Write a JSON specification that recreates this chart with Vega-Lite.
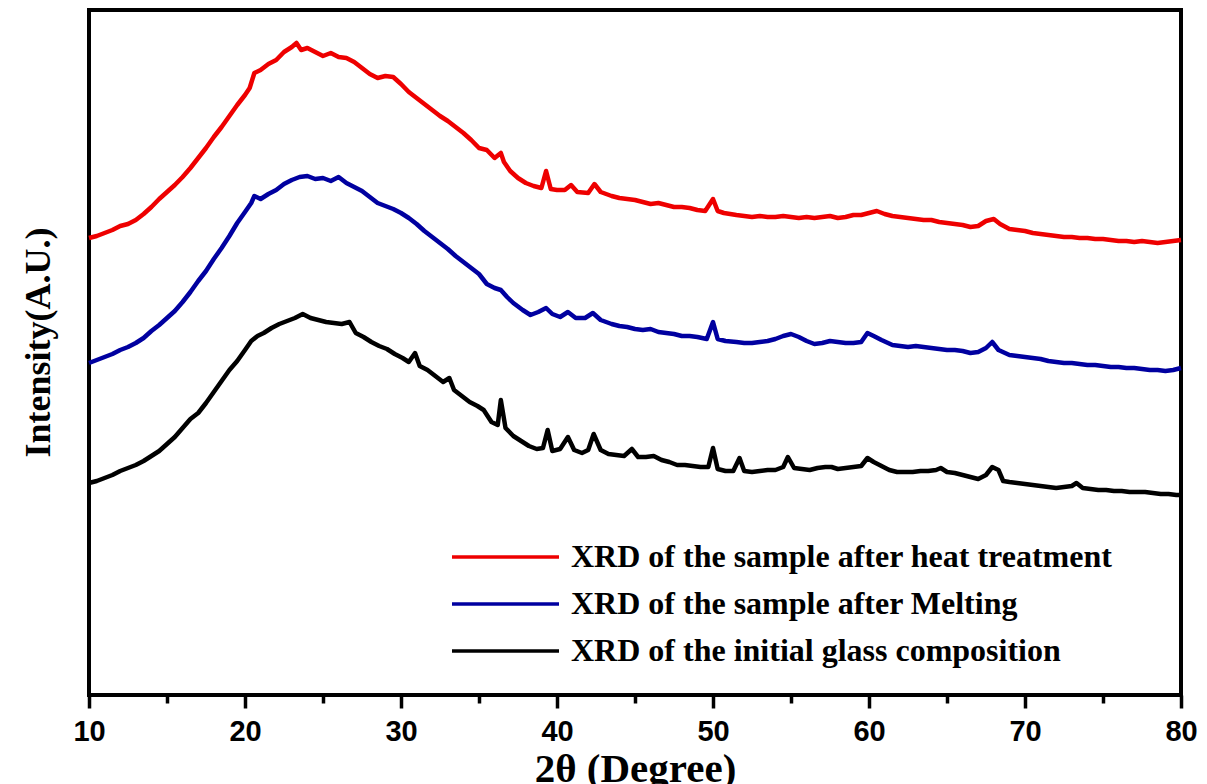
{
  "$schema": "https://vega.github.io/schema/vega-lite/v6.json",
  "width": 1092,
  "height": 685,
  "autosize": {"type": "none"},
  "padding": {"left": 89, "top": 10, "right": 26, "bottom": 89},
  "background": "white",
  "config": {
    "view": {"stroke": "black", "strokeWidth": 4},
    "axis": {"grid": false, "domain": false}
  },
  "data": {"values": [
{"sample":"heat","theta":10.0,"intensity":457},{"sample":"heat","theta":10.5,"intensity":459},{"sample":"heat","theta":11.0,"intensity":462},{"sample":"heat","theta":11.5,"intensity":465},{"sample":"heat","theta":12.0,"intensity":469},{"sample":"heat","theta":12.5,"intensity":471},{"sample":"heat","theta":13.0,"intensity":475},{"sample":"heat","theta":13.5,"intensity":481},{"sample":"heat","theta":14.0,"intensity":488},{"sample":"heat","theta":14.5,"intensity":496},{"sample":"heat","theta":15.0,"intensity":503},{"sample":"heat","theta":15.5,"intensity":510},{"sample":"heat","theta":16.0,"intensity":518},{"sample":"heat","theta":16.5,"intensity":527},{"sample":"heat","theta":17.0,"intensity":537},{"sample":"heat","theta":17.5,"intensity":547},{"sample":"heat","theta":18.0,"intensity":558},{"sample":"heat","theta":18.5,"intensity":568},{"sample":"heat","theta":19.0,"intensity":579},{"sample":"heat","theta":19.5,"intensity":590},{"sample":"heat","theta":20.0,"intensity":600},{"sample":"heat","theta":20.3,"intensity":607},{"sample":"heat","theta":20.6,"intensity":622},{"sample":"heat","theta":21.0,"intensity":625},{"sample":"heat","theta":21.5,"intensity":631},{"sample":"heat","theta":22.0,"intensity":635},{"sample":"heat","theta":22.5,"intensity":643},{"sample":"heat","theta":23.0,"intensity":648},{"sample":"heat","theta":23.3,"intensity":652},{"sample":"heat","theta":23.6,"intensity":645},{"sample":"heat","theta":24.0,"intensity":647},{"sample":"heat","theta":24.5,"intensity":643},{"sample":"heat","theta":25.0,"intensity":639},{"sample":"heat","theta":25.5,"intensity":642},{"sample":"heat","theta":26.0,"intensity":638},{"sample":"heat","theta":26.5,"intensity":637},{"sample":"heat","theta":27.0,"intensity":633},{"sample":"heat","theta":27.5,"intensity":627},{"sample":"heat","theta":28.0,"intensity":621},{"sample":"heat","theta":28.5,"intensity":617},{"sample":"heat","theta":29.0,"intensity":619},{"sample":"heat","theta":29.5,"intensity":618},{"sample":"heat","theta":30.0,"intensity":611},{"sample":"heat","theta":30.5,"intensity":603},{"sample":"heat","theta":31.0,"intensity":597},{"sample":"heat","theta":31.5,"intensity":591},{"sample":"heat","theta":32.0,"intensity":585},{"sample":"heat","theta":32.5,"intensity":579},{"sample":"heat","theta":33.0,"intensity":574},{"sample":"heat","theta":33.5,"intensity":568},{"sample":"heat","theta":34.0,"intensity":562},{"sample":"heat","theta":34.5,"intensity":555},{"sample":"heat","theta":35.0,"intensity":547},{"sample":"heat","theta":35.5,"intensity":545},{"sample":"heat","theta":36.0,"intensity":537},{"sample":"heat","theta":36.4,"intensity":542},{"sample":"heat","theta":36.6,"intensity":533},{"sample":"heat","theta":37.0,"intensity":524},{"sample":"heat","theta":37.5,"intensity":517},{"sample":"heat","theta":38.0,"intensity":512},{"sample":"heat","theta":38.5,"intensity":509},{"sample":"heat","theta":39.0,"intensity":507},{"sample":"heat","theta":39.3,"intensity":524},{"sample":"heat","theta":39.6,"intensity":506},{"sample":"heat","theta":40.0,"intensity":505},{"sample":"heat","theta":40.5,"intensity":505},{"sample":"heat","theta":40.9,"intensity":510},{"sample":"heat","theta":41.3,"intensity":503},{"sample":"heat","theta":42.0,"intensity":502},{"sample":"heat","theta":42.4,"intensity":511},{"sample":"heat","theta":42.8,"intensity":503},{"sample":"heat","theta":43.5,"intensity":499},{"sample":"heat","theta":44.0,"intensity":497},{"sample":"heat","theta":44.5,"intensity":496},{"sample":"heat","theta":45.0,"intensity":495},{"sample":"heat","theta":45.5,"intensity":493},{"sample":"heat","theta":46.0,"intensity":491},{"sample":"heat","theta":46.5,"intensity":492},{"sample":"heat","theta":47.0,"intensity":490},{"sample":"heat","theta":47.5,"intensity":488},{"sample":"heat","theta":48.0,"intensity":488},{"sample":"heat","theta":48.5,"intensity":487},{"sample":"heat","theta":49.0,"intensity":485},{"sample":"heat","theta":49.5,"intensity":484},{"sample":"heat","theta":50.0,"intensity":496},{"sample":"heat","theta":50.3,"intensity":484},{"sample":"heat","theta":50.7,"intensity":482},{"sample":"heat","theta":51.5,"intensity":480},{"sample":"heat","theta":52.0,"intensity":479},{"sample":"heat","theta":52.5,"intensity":478},{"sample":"heat","theta":53.0,"intensity":479},{"sample":"heat","theta":53.5,"intensity":478},{"sample":"heat","theta":54.0,"intensity":478},{"sample":"heat","theta":54.5,"intensity":479},{"sample":"heat","theta":55.0,"intensity":478},{"sample":"heat","theta":55.5,"intensity":477},{"sample":"heat","theta":56.0,"intensity":478},{"sample":"heat","theta":56.5,"intensity":477},{"sample":"heat","theta":57.0,"intensity":478},{"sample":"heat","theta":57.5,"intensity":479},{"sample":"heat","theta":58.0,"intensity":477},{"sample":"heat","theta":58.5,"intensity":478},{"sample":"heat","theta":59.0,"intensity":480},{"sample":"heat","theta":59.5,"intensity":480},{"sample":"heat","theta":60.0,"intensity":482},{"sample":"heat","theta":60.5,"intensity":484},{"sample":"heat","theta":61.0,"intensity":481},{"sample":"heat","theta":61.5,"intensity":479},{"sample":"heat","theta":62.0,"intensity":478},{"sample":"heat","theta":62.5,"intensity":477},{"sample":"heat","theta":63.0,"intensity":476},{"sample":"heat","theta":63.5,"intensity":475},{"sample":"heat","theta":64.0,"intensity":475},{"sample":"heat","theta":64.5,"intensity":473},{"sample":"heat","theta":65.0,"intensity":472},{"sample":"heat","theta":65.5,"intensity":471},{"sample":"heat","theta":66.0,"intensity":470},{"sample":"heat","theta":66.5,"intensity":468},{"sample":"heat","theta":67.0,"intensity":469},{"sample":"heat","theta":67.5,"intensity":474},{"sample":"heat","theta":68.0,"intensity":476},{"sample":"heat","theta":68.4,"intensity":471},{"sample":"heat","theta":69.0,"intensity":466},{"sample":"heat","theta":69.5,"intensity":465},{"sample":"heat","theta":70.0,"intensity":464},{"sample":"heat","theta":70.5,"intensity":462},{"sample":"heat","theta":71.0,"intensity":461},{"sample":"heat","theta":71.5,"intensity":460},{"sample":"heat","theta":72.0,"intensity":459},{"sample":"heat","theta":72.5,"intensity":458},{"sample":"heat","theta":73.0,"intensity":458},{"sample":"heat","theta":73.5,"intensity":457},{"sample":"heat","theta":74.0,"intensity":457},{"sample":"heat","theta":74.5,"intensity":456},{"sample":"heat","theta":75.0,"intensity":456},{"sample":"heat","theta":75.5,"intensity":455},{"sample":"heat","theta":76.0,"intensity":454},{"sample":"heat","theta":76.5,"intensity":454},{"sample":"heat","theta":77.0,"intensity":453},{"sample":"heat","theta":77.5,"intensity":454},{"sample":"heat","theta":78.0,"intensity":453},{"sample":"heat","theta":78.5,"intensity":452},{"sample":"heat","theta":79.0,"intensity":453},{"sample":"heat","theta":79.5,"intensity":454},{"sample":"heat","theta":80.0,"intensity":455},
{"sample":"melt","theta":10.0,"intensity":332},{"sample":"melt","theta":10.5,"intensity":335},{"sample":"melt","theta":11.0,"intensity":338},{"sample":"melt","theta":11.5,"intensity":341},{"sample":"melt","theta":12.0,"intensity":345},{"sample":"melt","theta":12.5,"intensity":348},{"sample":"melt","theta":13.0,"intensity":352},{"sample":"melt","theta":13.5,"intensity":357},{"sample":"melt","theta":14.0,"intensity":364},{"sample":"melt","theta":14.5,"intensity":370},{"sample":"melt","theta":15.0,"intensity":377},{"sample":"melt","theta":15.5,"intensity":384},{"sample":"melt","theta":16.0,"intensity":393},{"sample":"melt","theta":16.5,"intensity":403},{"sample":"melt","theta":17.0,"intensity":414},{"sample":"melt","theta":17.5,"intensity":424},{"sample":"melt","theta":18.0,"intensity":436},{"sample":"melt","theta":18.5,"intensity":447},{"sample":"melt","theta":19.0,"intensity":459},{"sample":"melt","theta":19.5,"intensity":472},{"sample":"melt","theta":20.0,"intensity":483},{"sample":"melt","theta":20.4,"intensity":492},{"sample":"melt","theta":20.6,"intensity":499},{"sample":"melt","theta":21.0,"intensity":496},{"sample":"melt","theta":21.5,"intensity":501},{"sample":"melt","theta":22.0,"intensity":505},{"sample":"melt","theta":22.5,"intensity":511},{"sample":"melt","theta":23.0,"intensity":515},{"sample":"melt","theta":23.5,"intensity":518},{"sample":"melt","theta":24.0,"intensity":519},{"sample":"melt","theta":24.5,"intensity":516},{"sample":"melt","theta":25.0,"intensity":517},{"sample":"melt","theta":25.5,"intensity":514},{"sample":"melt","theta":26.0,"intensity":518},{"sample":"melt","theta":26.5,"intensity":512},{"sample":"melt","theta":27.0,"intensity":508},{"sample":"melt","theta":27.5,"intensity":504},{"sample":"melt","theta":28.0,"intensity":498},{"sample":"melt","theta":28.5,"intensity":492},{"sample":"melt","theta":29.0,"intensity":489},{"sample":"melt","theta":29.5,"intensity":486},{"sample":"melt","theta":30.0,"intensity":482},{"sample":"melt","theta":30.5,"intensity":477},{"sample":"melt","theta":31.0,"intensity":471},{"sample":"melt","theta":31.5,"intensity":464},{"sample":"melt","theta":32.0,"intensity":458},{"sample":"melt","theta":32.5,"intensity":452},{"sample":"melt","theta":33.0,"intensity":446},{"sample":"melt","theta":33.5,"intensity":439},{"sample":"melt","theta":34.0,"intensity":433},{"sample":"melt","theta":34.5,"intensity":427},{"sample":"melt","theta":35.0,"intensity":421},{"sample":"melt","theta":35.5,"intensity":411},{"sample":"melt","theta":36.0,"intensity":407},{"sample":"melt","theta":36.4,"intensity":405},{"sample":"melt","theta":36.8,"intensity":398},{"sample":"melt","theta":37.2,"intensity":392},{"sample":"melt","theta":37.8,"intensity":385},{"sample":"melt","theta":38.3,"intensity":380},{"sample":"melt","theta":38.8,"intensity":383},{"sample":"melt","theta":39.3,"intensity":387},{"sample":"melt","theta":39.7,"intensity":381},{"sample":"melt","theta":40.2,"intensity":378},{"sample":"melt","theta":40.7,"intensity":383},{"sample":"melt","theta":41.2,"intensity":377},{"sample":"melt","theta":41.8,"intensity":377},{"sample":"melt","theta":42.3,"intensity":382},{"sample":"melt","theta":42.8,"intensity":375},{"sample":"melt","theta":43.5,"intensity":371},{"sample":"melt","theta":44.0,"intensity":369},{"sample":"melt","theta":44.5,"intensity":368},{"sample":"melt","theta":45.0,"intensity":366},{"sample":"melt","theta":45.5,"intensity":365},{"sample":"melt","theta":46.0,"intensity":366},{"sample":"melt","theta":46.5,"intensity":363},{"sample":"melt","theta":47.0,"intensity":362},{"sample":"melt","theta":47.5,"intensity":361},{"sample":"melt","theta":48.0,"intensity":359},{"sample":"melt","theta":48.5,"intensity":359},{"sample":"melt","theta":49.0,"intensity":358},{"sample":"melt","theta":49.6,"intensity":356},{"sample":"melt","theta":50.0,"intensity":373},{"sample":"melt","theta":50.3,"intensity":356},{"sample":"melt","theta":50.8,"intensity":354},{"sample":"melt","theta":51.5,"intensity":353},{"sample":"melt","theta":52.0,"intensity":352},{"sample":"melt","theta":52.5,"intensity":352},{"sample":"melt","theta":53.0,"intensity":353},{"sample":"melt","theta":53.5,"intensity":354},{"sample":"melt","theta":54.0,"intensity":356},{"sample":"melt","theta":54.5,"intensity":359},{"sample":"melt","theta":55.0,"intensity":361},{"sample":"melt","theta":55.5,"intensity":358},{"sample":"melt","theta":56.0,"intensity":354},{"sample":"melt","theta":56.5,"intensity":351},{"sample":"melt","theta":57.0,"intensity":352},{"sample":"melt","theta":57.5,"intensity":354},{"sample":"melt","theta":58.0,"intensity":353},{"sample":"melt","theta":58.5,"intensity":352},{"sample":"melt","theta":59.0,"intensity":352},{"sample":"melt","theta":59.5,"intensity":353},{"sample":"melt","theta":59.9,"intensity":362},{"sample":"melt","theta":60.3,"intensity":359},{"sample":"melt","theta":60.8,"intensity":355},{"sample":"melt","theta":61.5,"intensity":350},{"sample":"melt","theta":62.0,"intensity":349},{"sample":"melt","theta":62.5,"intensity":348},{"sample":"melt","theta":63.0,"intensity":349},{"sample":"melt","theta":63.5,"intensity":348},{"sample":"melt","theta":64.0,"intensity":347},{"sample":"melt","theta":64.5,"intensity":346},{"sample":"melt","theta":65.0,"intensity":345},{"sample":"melt","theta":65.5,"intensity":345},{"sample":"melt","theta":66.0,"intensity":344},{"sample":"melt","theta":66.5,"intensity":342},{"sample":"melt","theta":67.0,"intensity":343},{"sample":"melt","theta":67.5,"intensity":347},{"sample":"melt","theta":67.9,"intensity":353},{"sample":"melt","theta":68.3,"intensity":345},{"sample":"melt","theta":69.0,"intensity":340},{"sample":"melt","theta":69.5,"intensity":339},{"sample":"melt","theta":70.0,"intensity":338},{"sample":"melt","theta":70.5,"intensity":337},{"sample":"melt","theta":71.0,"intensity":336},{"sample":"melt","theta":71.5,"intensity":334},{"sample":"melt","theta":72.0,"intensity":333},{"sample":"melt","theta":72.5,"intensity":332},{"sample":"melt","theta":73.0,"intensity":332},{"sample":"melt","theta":73.5,"intensity":331},{"sample":"melt","theta":74.0,"intensity":330},{"sample":"melt","theta":74.5,"intensity":330},{"sample":"melt","theta":75.0,"intensity":329},{"sample":"melt","theta":75.5,"intensity":328},{"sample":"melt","theta":76.0,"intensity":328},{"sample":"melt","theta":76.5,"intensity":327},{"sample":"melt","theta":77.0,"intensity":327},{"sample":"melt","theta":77.5,"intensity":326},{"sample":"melt","theta":78.0,"intensity":325},{"sample":"melt","theta":78.5,"intensity":325},{"sample":"melt","theta":79.0,"intensity":324},{"sample":"melt","theta":79.5,"intensity":325},{"sample":"melt","theta":80.0,"intensity":327},
{"sample":"initial","theta":10.0,"intensity":212},{"sample":"initial","theta":10.5,"intensity":214},{"sample":"initial","theta":11.0,"intensity":217},{"sample":"initial","theta":11.5,"intensity":220},{"sample":"initial","theta":12.0,"intensity":224},{"sample":"initial","theta":12.5,"intensity":227},{"sample":"initial","theta":13.0,"intensity":230},{"sample":"initial","theta":13.5,"intensity":234},{"sample":"initial","theta":14.0,"intensity":239},{"sample":"initial","theta":14.5,"intensity":244},{"sample":"initial","theta":15.0,"intensity":251},{"sample":"initial","theta":15.5,"intensity":258},{"sample":"initial","theta":16.0,"intensity":267},{"sample":"initial","theta":16.5,"intensity":276},{"sample":"initial","theta":17.0,"intensity":282},{"sample":"initial","theta":17.5,"intensity":292},{"sample":"initial","theta":18.0,"intensity":303},{"sample":"initial","theta":18.5,"intensity":314},{"sample":"initial","theta":19.0,"intensity":325},{"sample":"initial","theta":19.5,"intensity":334},{"sample":"initial","theta":20.0,"intensity":345},{"sample":"initial","theta":20.4,"intensity":354},{"sample":"initial","theta":20.8,"intensity":359},{"sample":"initial","theta":21.2,"intensity":362},{"sample":"initial","theta":21.7,"intensity":367},{"sample":"initial","theta":22.2,"intensity":371},{"sample":"initial","theta":22.7,"intensity":374},{"sample":"initial","theta":23.2,"intensity":377},{"sample":"initial","theta":23.7,"intensity":381},{"sample":"initial","theta":24.2,"intensity":377},{"sample":"initial","theta":24.7,"intensity":375},{"sample":"initial","theta":25.2,"intensity":373},{"sample":"initial","theta":25.7,"intensity":372},{"sample":"initial","theta":26.2,"intensity":371},{"sample":"initial","theta":26.7,"intensity":373},{"sample":"initial","theta":27.1,"intensity":362},{"sample":"initial","theta":27.6,"intensity":358},{"sample":"initial","theta":28.1,"intensity":353},{"sample":"initial","theta":28.6,"intensity":349},{"sample":"initial","theta":29.1,"intensity":346},{"sample":"initial","theta":29.6,"intensity":341},{"sample":"initial","theta":30.1,"intensity":337},{"sample":"initial","theta":30.5,"intensity":333},{"sample":"initial","theta":30.9,"intensity":342},{"sample":"initial","theta":31.2,"intensity":329},{"sample":"initial","theta":31.7,"intensity":325},{"sample":"initial","theta":32.2,"intensity":319},{"sample":"initial","theta":32.7,"intensity":313},{"sample":"initial","theta":33.1,"intensity":317},{"sample":"initial","theta":33.4,"intensity":305},{"sample":"initial","theta":33.9,"intensity":299},{"sample":"initial","theta":34.4,"intensity":293},{"sample":"initial","theta":34.9,"intensity":289},{"sample":"initial","theta":35.3,"intensity":285},{"sample":"initial","theta":35.8,"intensity":273},{"sample":"initial","theta":36.2,"intensity":270},{"sample":"initial","theta":36.4,"intensity":295},{"sample":"initial","theta":36.7,"intensity":267},{"sample":"initial","theta":37.2,"intensity":259},{"sample":"initial","theta":37.7,"intensity":254},{"sample":"initial","theta":38.2,"intensity":249},{"sample":"initial","theta":38.7,"intensity":246},{"sample":"initial","theta":39.1,"intensity":247},{"sample":"initial","theta":39.4,"intensity":265},{"sample":"initial","theta":39.7,"intensity":244},{"sample":"initial","theta":40.2,"intensity":246},{"sample":"initial","theta":40.7,"intensity":258},{"sample":"initial","theta":41.1,"intensity":245},{"sample":"initial","theta":41.6,"intensity":242},{"sample":"initial","theta":42.0,"intensity":245},{"sample":"initial","theta":42.35,"intensity":261},{"sample":"initial","theta":42.8,"intensity":245},{"sample":"initial","theta":43.3,"intensity":241},{"sample":"initial","theta":43.8,"intensity":240},{"sample":"initial","theta":44.3,"intensity":239},{"sample":"initial","theta":44.8,"intensity":246},{"sample":"initial","theta":45.2,"intensity":238},{"sample":"initial","theta":45.7,"intensity":238},{"sample":"initial","theta":46.2,"intensity":239},{"sample":"initial","theta":46.7,"intensity":235},{"sample":"initial","theta":47.2,"intensity":233},{"sample":"initial","theta":47.7,"intensity":230},{"sample":"initial","theta":48.2,"intensity":230},{"sample":"initial","theta":48.7,"intensity":229},{"sample":"initial","theta":49.2,"intensity":228},{"sample":"initial","theta":49.7,"intensity":228},{"sample":"initial","theta":50.0,"intensity":247},{"sample":"initial","theta":50.3,"intensity":226},{"sample":"initial","theta":50.8,"intensity":224},{"sample":"initial","theta":51.3,"intensity":224},{"sample":"initial","theta":51.7,"intensity":237},{"sample":"initial","theta":52.0,"intensity":224},{"sample":"initial","theta":52.5,"intensity":223},{"sample":"initial","theta":53.0,"intensity":224},{"sample":"initial","theta":53.5,"intensity":225},{"sample":"initial","theta":54.0,"intensity":225},{"sample":"initial","theta":54.5,"intensity":228},{"sample":"initial","theta":54.8,"intensity":238},{"sample":"initial","theta":55.2,"intensity":227},{"sample":"initial","theta":55.7,"intensity":226},{"sample":"initial","theta":56.2,"intensity":225},{"sample":"initial","theta":56.7,"intensity":227},{"sample":"initial","theta":57.2,"intensity":228},{"sample":"initial","theta":57.6,"intensity":228},{"sample":"initial","theta":58.0,"intensity":226},{"sample":"initial","theta":58.5,"intensity":227},{"sample":"initial","theta":59.0,"intensity":228},{"sample":"initial","theta":59.5,"intensity":229},{"sample":"initial","theta":59.9,"intensity":237},{"sample":"initial","theta":60.3,"intensity":233},{"sample":"initial","theta":60.8,"intensity":229},{"sample":"initial","theta":61.3,"intensity":225},{"sample":"initial","theta":61.8,"intensity":223},{"sample":"initial","theta":62.3,"intensity":223},{"sample":"initial","theta":62.8,"intensity":223},{"sample":"initial","theta":63.3,"intensity":224},{"sample":"initial","theta":63.8,"intensity":224},{"sample":"initial","theta":64.3,"intensity":225},{"sample":"initial","theta":64.6,"intensity":227},{"sample":"initial","theta":65.0,"intensity":223},{"sample":"initial","theta":65.5,"intensity":222},{"sample":"initial","theta":66.0,"intensity":220},{"sample":"initial","theta":66.5,"intensity":218},{"sample":"initial","theta":67.0,"intensity":216},{"sample":"initial","theta":67.5,"intensity":220},{"sample":"initial","theta":67.9,"intensity":228},{"sample":"initial","theta":68.3,"intensity":225},{"sample":"initial","theta":68.6,"intensity":214},{"sample":"initial","theta":69.0,"intensity":213},{"sample":"initial","theta":69.5,"intensity":212},{"sample":"initial","theta":70.0,"intensity":211},{"sample":"initial","theta":70.5,"intensity":210},{"sample":"initial","theta":71.0,"intensity":209},{"sample":"initial","theta":71.5,"intensity":208},{"sample":"initial","theta":72.0,"intensity":207},{"sample":"initial","theta":72.5,"intensity":208},{"sample":"initial","theta":73.0,"intensity":209},{"sample":"initial","theta":73.3,"intensity":212},{"sample":"initial","theta":73.7,"intensity":207},{"sample":"initial","theta":74.2,"intensity":206},{"sample":"initial","theta":74.7,"intensity":205},{"sample":"initial","theta":75.2,"intensity":205},{"sample":"initial","theta":75.7,"intensity":204},{"sample":"initial","theta":76.2,"intensity":204},{"sample":"initial","theta":76.7,"intensity":203},{"sample":"initial","theta":77.2,"intensity":203},{"sample":"initial","theta":77.7,"intensity":203},{"sample":"initial","theta":78.2,"intensity":202},{"sample":"initial","theta":78.7,"intensity":201},{"sample":"initial","theta":79.2,"intensity":201},{"sample":"initial","theta":79.7,"intensity":200},{"sample":"initial","theta":80.0,"intensity":200}
  ]},
  "mark": {"type": "line", "strokeWidth": 4.5, "strokeJoin": "round"},
  "encoding": {
    "x": {
      "field": "theta", "type": "quantitative",
      "scale": {"domain": [10, 80], "nice": false, "zero": false},
      "axis": {
        "title": "2θ (Degree)",
        "values": [10, 15, 20, 25, 30, 35, 40, 45, 50, 55, 60, 65, 70, 75, 80],
        "labelExpr": "datum.value % 10 === 0 ? datum.label : ''",
        "tickColor": "black",
        "tickWidth": 3.5,
        "tickSize": {"condition": {"test": "datum.value % 10 === 0", "value": 13}, "value": 8},
        "labelFont": "Liberation Sans",
        "labelFontWeight": "bold",
        "labelFontSize": 29,
        "labelColor": "black",
        "labelPadding": 9,
        "labelFlush": false,
        "labelOverlap": false,
        "titleFont": "Liberation Serif",
        "titleFontWeight": "bold",
        "titleFontSize": 41,
        "titleColor": "black",
        "titleBaseline": "alphabetic",
        "titleY": 86
      }
    },
    "y": {
      "field": "intensity", "type": "quantitative",
      "scale": {"domain": [0, 685], "nice": false},
      "axis": {
        "title": "Intensity(A.U.)",
        "ticks": false,
        "labels": false,
        "titleFont": "Liberation Serif",
        "titleFontWeight": "bold",
        "titleFontSize": 36,
        "titleColor": "black",
        "titleBaseline": "alphabetic",
        "titleAngle": 270,
        "titleX": -40,
        "titleY": 332
      }
    },
    "color": {
      "field": "sample", "type": "nominal",
      "scale": {"domain": ["heat", "melt", "initial"], "range": ["#ee0000", "#0000a0", "#000000"]},
      "legend": {
        "title": null,
        "orient": "none",
        "legendX": 361,
        "legendY": 532,
        "padding": 0,
        "symbolType": "stroke",
        "symbolSize": 11449,
        "symbolStrokeWidth": 3.5,
        "clipHeight": 30,
        "rowPadding": 15,
        "labelOffset": 10,
        "labelFont": "Liberation Serif",
        "labelFontWeight": "bold",
        "labelFontSize": 32,
        "labelColor": "black",
        "labelLimit": 0,
        "labelExpr": "datum.value === 'heat' ? 'XRD of the sample  after heat treatment' : datum.value === 'melt' ? 'XRD of the sample after Melting' : 'XRD of the initial glass composition'"
      }
    }
  }
}
